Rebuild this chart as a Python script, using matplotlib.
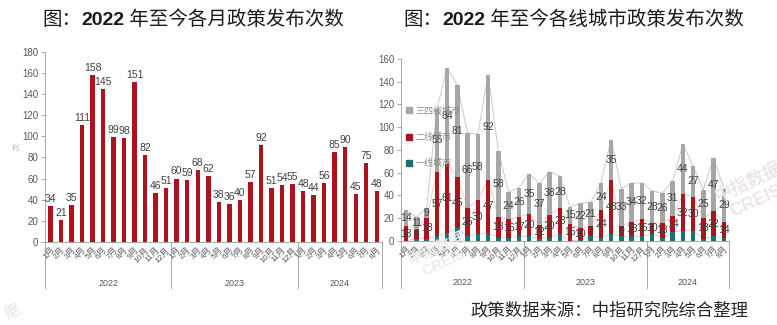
import matplotlib
matplotlib.use("Agg")
import matplotlib.pyplot as plt
import matplotlib.transforms as mtransforms
from matplotlib.patches import Patch
import numpy as np

plt.rcParams['font.family'] = ['Liberation Sans', 'Noto Sans CJK SC', 'DejaVu Sans']
plt.rcParams['axes.linewidth'] = 0.6

# month labels and year groups
years = ["2022", "2023", "2024"]
months_per_year = [12, 12, 8]
month_labels = [f"{m}月" for n in months_per_year for m in range(1, n + 1)]

# policies released per month
monthly_counts = [34, 21, 35, 111, 158, 145, 99, 98, 151, 82, 46, 51,
                  60, 59, 68, 62, 38, 36, 40, 57, 92, 51, 54, 55,
                  48, 44, 56, 85, 90, 45, 75, 48]

# policies by city tier
tier1 = [0, 2, 2, 4, 7, 11, 4, 6, 7, 3, 3, 4,
         4, 2, 3, 6, 0, 1, 4, 3, 6, 4, 4, 4,
         6, 3, 8, 9, 9, 2, 4, 3]
tier2 = [13, 8, 18, 57, 61, 45, 25, 30, 47, 18, 16, 17,
         20, 12, 20, 23, 15, 10, 9, 24, 48, 9, 13, 15,
         10, 13, 14, 32, 30, 18, 22, 14]
tier34 = [14, 11, 9, 55, 84, 81, 66, 58, 92, 58, 24, 26,
          35, 37, 38, 28, 15, 22, 21, 24, 35, 33, 34, 32,
          28, 26, 31, 44, 27, 25, 47, 29]

RED = "#b0121b"
GRAY = "#a6a6a6"
TEAL = "#1c6f72"
TEXT = "#404040"
AXIS = "#9a9a9a"


def style_axes(ax, ymax):
    ax.set_xlim(-0.5, len(month_labels) - 0.5)
    ax.set_ylim(0, ymax)
    ax.set_yticks(np.arange(0, ymax + 1, 20))
    for side in ("top", "right"):
        ax.spines[side].set_visible(False)
    for side in ("left", "bottom"):
        ax.spines[side].set_color(AXIS)
    ax.tick_params(axis="y", labelsize=7, colors=AXIS, labelcolor="#595959",
                   length=3, width=0.6, pad=2)
    ax.set_xticks(np.arange(len(month_labels)))
    ax.set_xticklabels(month_labels, rotation=45, ha="right",
                       rotation_mode="anchor", fontsize=6, color="#595959")
    ax.tick_params(axis="x", length=0, pad=3)


def draw_year_groups(ax, sep_bottom, label_y):
    trans = mtransforms.blended_transform_factory(ax.transData, ax.transAxes)
    edges = np.concatenate([[0], np.cumsum(months_per_year)]) - 0.5
    for e in edges:
        ax.plot([e, e], [0, sep_bottom], transform=trans, color=AXIS,
                lw=0.6, clip_on=False)
    for year, a, b in zip(years, edges[:-1], edges[1:]):
        ax.text((a + b) / 2, label_y, year, transform=trans, ha="center",
                va="center", fontsize=6.5, color="#595959")


def draw_title(fig, x, y, parts, size=14):
    renderer = fig.canvas.get_renderer()
    for text, weight in parts:
        t = fig.text(x, y, text, fontsize=size, fontweight=weight,
                     va="baseline", color="#1a1a1a")
        bb = t.get_window_extent(renderer)
        x += bb.width / fig.bbox.width


fig = plt.figure(figsize=(7.77, 3.25), dpi=100)
x = np.arange(len(month_labels))

# left: monthly totals
ax1 = fig.add_axes([0.058, 0.2554, 0.4337, 0.5855])
ax1.bar(x, monthly_counts, width=0.42, color=RED, zorder=2)
for xi, v in zip(x, monthly_counts):
    ax1.text(xi, v + 2, str(v), ha="center", va="bottom", fontsize=7.5,
             color=TEXT)
style_axes(ax1, 180)
draw_year_groups(ax1, -0.242, -0.216)
fig.text(17 / 777, 1 - 147 / 325, "次", fontsize=6, color="#b0b0b0",
         rotation=90, ha="center", va="center")

# right: stacked by city tier
ax2 = fig.add_axes([0.5161, 0.2585, 0.4221, 0.56])
b1 = np.array(tier1)
b2 = b1 + np.array(tier2)
b3 = b2 + np.array(tier34)
ax2.plot(x, b3, color="#cacaca", lw=0.7, zorder=1)
ax2.plot(x, b2, color="#f2c4c4", lw=0.6, zorder=1)
ax2.plot(x, b1, color="#b4d4d4", lw=0.6, zorder=1)
ax2.bar(x, tier1, width=0.45, color=TEAL, zorder=2)
ax2.bar(x, tier2, width=0.45, bottom=b1, color=RED, zorder=2)
ax2.bar(x, tier34, width=0.45, bottom=b2, color=GRAY, zorder=2)
for xi, lo, v in zip(x, b1, tier2):
    ax2.text(xi, lo + v / 2, str(v), ha="center", va="center", fontsize=7.5,
             color=TEXT, zorder=3)
for xi, lo, v in zip(x, b2, tier34):
    ax2.text(xi, lo + v / 2, str(v), ha="center", va="center", fontsize=7.5,
             color=TEXT, zorder=3)
style_axes(ax2, 160)
draw_year_groups(ax2, -0.258, -0.23)
handles = [Patch(color=GRAY, label="三四线城市"),
           Patch(color=RED, label="二线城市"),
           Patch(color=TEAL, label="一线城市")]
leg = ax2.legend(handles=handles, loc="upper left", bbox_to_anchor=(0.0, 0.77),
                 frameon=False, fontsize=6.5, handlelength=0.6, handleheight=0.6,
                 handletextpad=0.4, labelspacing=1.9, borderaxespad=0.2)
for t in leg.get_texts():
    t.set_color("#8c8c8c")

# titles and source note
draw_title(fig, 42 / 777, 1 - 25 / 325,
           [("图：", "normal"), ("2022", "bold"), (" 年至今各月政策发布次数", "normal")])
draw_title(fig, 403 / 777, 1 - 25 / 325,
           [("图：", "normal"), ("2022", "bold"), (" 年至今各线城市政策发布次数", "normal")])
fig.text(470 / 777, 1 - 310 / 325, "政策数据来源：中指研究院综合整理",
         fontsize=12.5, color="#262626", va="center", ha="left")

# faint watermarks
fig.text(752 / 777, 1 - 192 / 325, "中指数据\nCREIS", fontsize=13,
         color="#efe6e6", rotation=25, ha="center", va="center",
         fontweight="bold", zorder=0)
fig.text(440 / 777, 1 - 255 / 325, "中指数据\nCREIS", fontsize=11,
         color="#ececec", rotation=25, ha="center", va="center",
         fontweight="bold", zorder=0)
fig.text(12 / 777, 1 - 312 / 325, "据", fontsize=11, color="#e6e6e6",
         rotation=25, ha="center", va="center", zorder=0)

fig.savefig("out.png", dpi=100)
